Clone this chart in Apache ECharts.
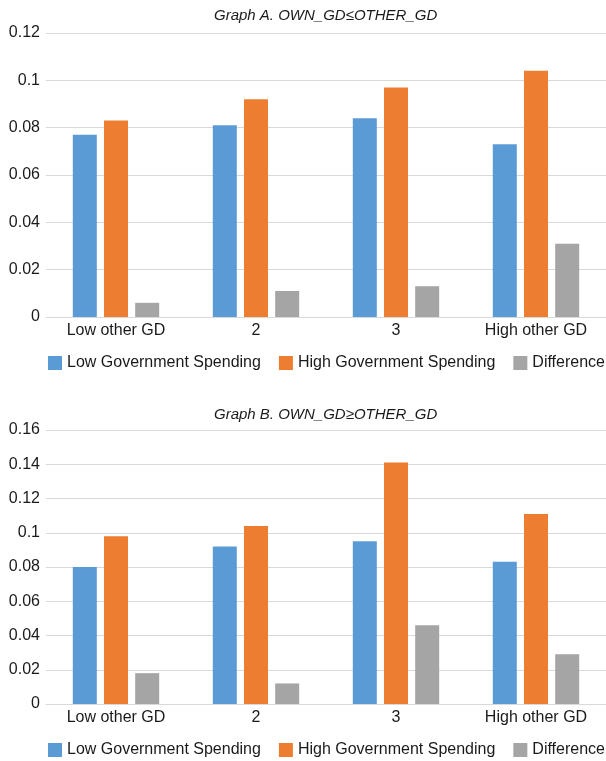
<!DOCTYPE html>
<html>
<head>
<meta charset="utf-8">
<script src="https://cdn.jsdelivr.net/npm/echarts@6/dist/echarts.min.js"></script>
<style>
  html, body { margin: 0; padding: 0; background: #fff; }
  #chart { width: 606px; height: 761px; }
</style>
</head>
<body>
<div id="chart"></div>
<script>
const categories = ['Low other GD', '2', '3', 'High other GD']
const seriesNames = ['Low Government Spending', 'High Government Spending', 'Difference']

// Graph A: OWN_GD <= OTHER_GD
const lowA = [0.077, 0.081, 0.084, 0.073]
const highA = [0.083, 0.092, 0.097, 0.104]
const diffA = [0.006, 0.011, 0.013, 0.031]

// Graph B: OWN_GD >= OTHER_GD
const lowB = [0.080, 0.092, 0.095, 0.083]
const highB = [0.098, 0.104, 0.141, 0.111]
const diffB = [0.018, 0.012, 0.046, 0.029]

const colors = ['#5B9BD5', '#ED7D31', '#A5A5A5']
const font = 'Liberation Sans, Helvetica, Arial, sans-serif'

const chart = echarts.init(document.getElementById('chart'), null, { renderer: 'canvas' })

const xAxisCfg = idx => ({
  type: 'category',
  gridIndex: idx,
  data: categories,
  axisTick: { show: false },
  axisLine: { lineStyle: { color: '#D9D9D9', width: 1 } },
  axisLabel: { color: '#1a1a1a', fontSize: 16, fontFamily: font, margin: 6, interval: 0 },
})

const yAxisCfg = (idx, max) => ({
  type: 'value',
  gridIndex: idx,
  min: 0,
  max: max,
  interval: 0.02,
  axisLine: { show: false },
  axisTick: { show: false },
  axisLabel: { color: '#1a1a1a', fontSize: 16, fontFamily: font, margin: 6 },
  splitLine: { lineStyle: { color: '#D9D9D9', width: 1 } },
})

const makeSeries = (data, idx) => data.map((vals, i) => ({
  name: seriesNames[i],
  type: 'bar',
  xAxisIndex: idx,
  yAxisIndex: idx,
  data: vals,
  barWidth: 24,
  barGap: '30%',
  itemStyle: { color: colors[i] },
  emphasis: { disabled: true },
}))

// legend runs off the right edge like the original, so give it room to not wrap
const legendCfg = top => ({
  top: top,
  left: 43,
  width: 800,
  itemWidth: 14,
  itemHeight: 14,
  itemGap: 18,
  icon: 'rect',
  data: seriesNames,
  textStyle: { color: '#1a1a1a', fontSize: 16, fontFamily: font },
})

const titleStyle = { fontSize: 15, fontStyle: 'italic', fontWeight: 'normal', color: '#1a1a1a', fontFamily: font }

chart.setOption({
  animation: false,
  color: colors,
  title: [
    { text: 'Graph A. OWN_GD\u2264OTHER_GD', left: 209, top: 3, textStyle: titleStyle },
    { text: 'Graph B. OWN_GD\u2265OTHER_GD', left: 209, top: 402, textStyle: titleStyle },
  ],
  legend: [legendCfg(350), legendCfg(737)],
  grid: [
    { left: 46, top: 33, width: 566, height: 284 },
    { left: 46, top: 430, width: 566, height: 274 },
  ],
  xAxis: [xAxisCfg(0), xAxisCfg(1)],
  yAxis: [yAxisCfg(0, 0.12), yAxisCfg(1, 0.16)],
  series: [
    ...makeSeries([lowA, highA, diffA], 0),
    ...makeSeries([lowB, highB, diffB], 1),
  ],
})
</script>
</body>
</html>
